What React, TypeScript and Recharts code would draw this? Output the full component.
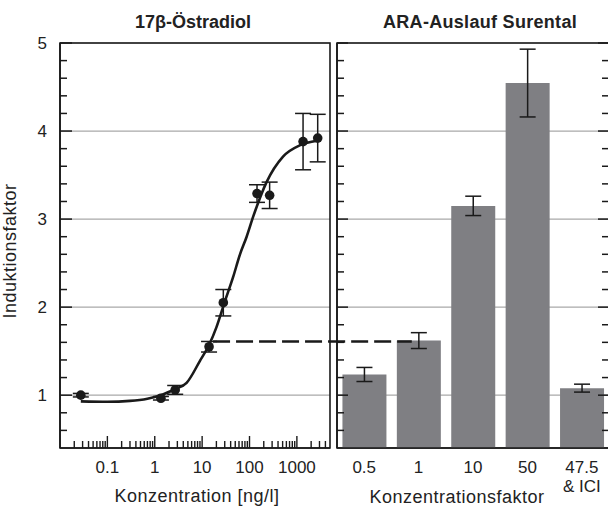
import React from 'react';
import {
  ComposedChart, BarChart, Bar, Scatter, Line, XAxis, YAxis, CartesianGrid,
  ErrorBar, ReferenceLine, ReferenceArea,
} from 'recharts';

const FONT = '"Liberation Sans", Arial, Helvetica, sans-serif';
const INK = '#1a1a1a';
const GRID = '#a9a9a9';

// 17β-Östradiol: measured points (ng/l, induction factor, error)
const e2Conc = [0.0275, 1.35, 2.7, 14, 28, 144, 266, 1350, 2750];
const e2Ind = [1.0, 0.965, 1.06, 1.55, 2.05, 3.29, 3.27, 3.88, 3.92];
const e2Err = [0.02, 0.02, 0.05, 0.06, 0.15, 0.1, 0.15, 0.32, 0.27];

// fitted dose-response curve
const fitConc = [0.0275, 0.1, 0.3, 0.7, 1.35, 2.7, 4.7, 9, 14, 20, 30, 45, 63, 87, 120, 229, 510, 1175, 2650];
const fitInd = [0.93, 0.925, 0.935, 0.96, 1.0, 1.07, 1.14, 1.39, 1.57, 1.77, 2.06, 2.34, 2.6, 2.8, 3.03, 3.42, 3.71, 3.84, 3.89];

// ARA-Auslauf Surental
const factors = ['0.5', '1', '10', '50', '47.5\n& ICI'];
const barInd = [1.235, 1.62, 3.15, 4.545, 1.08];
const barErr = [0.08, 0.09, 0.11, 0.385, 0.045];

// induction at 14 ng/l, carried over to the effluent
const equivLevel = 1.61;

const yMajor = [1, 2, 3, 4, 5];
const yMinor = [0.6, 0.8, 1.2, 1.4, 1.6, 1.8, 2.2, 2.4, 2.6, 2.8, 3.2, 3.4, 3.6, 3.8, 4.2, 4.4, 4.6, 4.8];
const xMajor = [0.1, 1, 10, 100, 1000];
const xMinor = [
  0.02, 0.03, 0.04, 0.05, 0.06, 0.07, 0.08, 0.09,
  0.2, 0.3, 0.4, 0.5, 0.6, 0.7, 0.8, 0.9,
  2, 3, 4, 5, 6, 7, 8, 9,
  20, 30, 40, 50, 60, 70, 80, 90,
  200, 300, 400, 500, 600, 700, 800, 900,
  2000, 3000, 4000,
];

const e2Data = e2Conc.map((x, i) => ({ x, y: e2Ind[i], err: e2Err[i] }));
const fitData = fitConc.map((x, i) => ({ x, y: fitInd[i] }));
const barData = factors.map((cat, i) => ({ cat, v: barInd[i], err: barErr[i] }));

const yTicks = [...yMinor, ...yMajor].sort((a, b) => a - b);
const xTicks = [...xMinor, ...xMajor].sort((a, b) => a - b);

const line = { stroke: INK, strokeWidth: 1.6 };
const textProps = { fill: '#222', fontSize: 17, fontFamily: FONT };

function Dot(p: any) {
  return <circle cx={p.cx} cy={p.cy} r={4.8} fill={INK} />;
}

// inward tick marks, long on whole numbers, label outside (left axis)
function LeftTick({ x, y, payload, showLabel, major = 12 }: any) {
  const isMajor = yMajor.includes(payload.value);
  return (
    <g>
      <line x1={x} y1={y} x2={x + (isMajor ? major : 7)} y2={y} stroke={INK} strokeWidth={1.5} />
      {showLabel && isMajor && (
        <text x={x - 13} y={y} dy="0.36em" textAnchor="end" {...textProps}>{payload.value}</text>
      )}
    </g>
  );
}

function RightTick({ x, y, payload }: any) {
  const isMajor = yMajor.includes(payload.value);
  return <line x1={x} y1={y} x2={x - (isMajor ? 11 : 7)} y2={y} stroke={INK} strokeWidth={1.5} />;
}

function LogTick({ x, y, payload }: any) {
  const isMajor = xMajor.includes(payload.value);
  return (
    <g>
      <line x1={x} y1={y} x2={x} y2={y - (isMajor ? 12 : 7)} stroke={INK} strokeWidth={1.4} />
      {isMajor && (
        <text x={x} y={y + 13} dy="0.71em" textAnchor="middle" {...textProps}>{String(payload.value)}</text>
      )}
    </g>
  );
}

function CatTick({ x, y, payload }: any) {
  const parts = String(payload.value).split('\n');
  return (
    <text x={x} y={y + 13} textAnchor="middle" {...textProps}>
      {parts.map((s, i) => (
        <tspan key={i} x={x} dy={i === 0 ? '0.71em' : '1.1em'}>{s}</tspan>
      ))}
    </text>
  );
}

const title: React.CSSProperties = {
  position: 'absolute', fontFamily: FONT, fontWeight: 'bold', fontSize: 18,
  lineHeight: '20px', textAlign: 'center', color: '#222', whiteSpace: 'nowrap',
};
const axisTitle: React.CSSProperties = {
  position: 'absolute', fontFamily: FONT, fontSize: 18, lineHeight: '16px',
  textAlign: 'center', color: '#222', whiteSpace: 'nowrap', letterSpacing: 0.5,
};

function E2Panel() {
  return (
    <ComposedChart width={340} height={506} margin={{ top: 43, right: 10, bottom: 28, left: 20 }}>
      <CartesianGrid xAxisId="x" yAxisId="y" vertical={false} stroke={GRID} strokeWidth={1.3}
        horizontalValues={yMajor} />
      <XAxis xAxisId="x" dataKey="x" type="number" scale="log" domain={[0.01, 5000]} allowDataOverflow
        ticks={xTicks} interval={0} height={30} tickSize={0} tickMargin={0}
        axisLine={line} tickLine={false} tick={<LogTick />} />
      <YAxis yAxisId="y" type="number" domain={[0.4, 5]} allowDataOverflow ticks={yTicks} interval={0}
        width={40} tickSize={0} tickMargin={0} axisLine={line} tickLine={false}
        tick={<LeftTick showLabel />} />
      <ReferenceArea xAxisId="x" yAxisId="y" x1={0.01} x2={5000} y1={0.4} y2={5}
        fill="none" stroke={INK} strokeWidth={1.6} ifOverflow="visible" />
      <ReferenceLine xAxisId="x" yAxisId="y" ifOverflow="visible"
        segment={[{ x: 17, y: equivLevel }, { x: 5000, y: equivLevel }]}
        stroke={INK} strokeWidth={2.6} strokeDasharray="17 6" />
      <Line xAxisId="x" yAxisId="y" data={fitData} dataKey="y" type="monotone"
        stroke={INK} strokeWidth={2.6} dot={false} activeDot={false} isAnimationActive={false} />
      <Scatter xAxisId="x" yAxisId="y" data={e2Data} dataKey="y" shape={<Dot />} isAnimationActive={false}>
        <ErrorBar dataKey="err" direction="y" width={8} stroke={INK} strokeWidth={1.5} />
      </Scatter>
    </ComposedChart>
  );
}

function EffluentPanel() {
  return (
    <BarChart width={281} height={506} data={barData} barCategoryGap="10%"
      margin={{ top: 43, right: 1, bottom: 28, left: 6 }}>
      <CartesianGrid xAxisId="c" yAxisId="y" vertical={false} stroke={GRID} strokeWidth={1.3}
        horizontalValues={yMajor} />
      <XAxis xAxisId="c" dataKey="cat" type="category" height={30} interval={0}
        tickLine={false} tickSize={0} tickMargin={0} tick={<CatTick />} axisLine={line} />
      <XAxis xAxisId="n" type="number" domain={[0, 5]} allowDataOverflow hide />
      <YAxis yAxisId="y" type="number" domain={[0.4, 5]} allowDataOverflow ticks={yTicks} interval={0}
        width={1} tickSize={0} tickMargin={0} axisLine={line} tickLine={false}
        tick={<LeftTick major={11} />} />
      <YAxis yAxisId="yr" orientation="right" type="number" domain={[0.4, 5]} allowDataOverflow
        ticks={yTicks} interval={0} width={1} tickSize={0} tickMargin={0} axisLine={line}
        tickLine={false} tick={<RightTick />} />
      <ReferenceArea xAxisId="n" yAxisId="y" x1={0} x2={5} y1={0.4} y2={5}
        fill="none" stroke={INK} strokeWidth={1.6} ifOverflow="visible" />
      <ReferenceLine xAxisId="n" yAxisId="y" ifOverflow="visible"
        segment={[{ x: -0.13, y: equivLevel }, { x: 1.1, y: equivLevel }]}
        stroke={INK} strokeWidth={2.6} strokeDasharray="17 6" />
      <Bar xAxisId="c" yAxisId="y" dataKey="v" fill="#7f7f83" isAnimationActive={false}>
        <ErrorBar dataKey="err" direction="y" width={8} stroke={INK} strokeWidth={1.5} />
      </Bar>
    </BarChart>
  );
}

export default function App() {
  return (
    <div style={{ position: 'absolute', left: 0, top: 0, width: 608, height: 506, overflow: 'hidden', background: '#fff' }}>
      <div style={{ position: 'absolute', left: 0, top: 0 }}><E2Panel /></div>
      <div style={{ position: 'absolute', left: 330, top: 0 }}><EffluentPanel /></div>
      <div style={{ ...title, left: 73, top: 12, width: 240 }}>17β-Östradiol</div>
      <div style={{ ...title, left: 360, top: 12, width: 240, letterSpacing: 0.3 }}>ARA-Auslauf Surental</div>
      <div style={{ ...axisTitle, left: 77, top: 488, width: 240 }}>Konzentration [ng/l]</div>
      <div style={{ ...axisTitle, left: 337, top: 489, width: 240 }}>Konzentrationsfaktor</div>
      <div style={{ ...axisTitle, left: -110, top: 243, width: 240, transform: 'rotate(-90deg)' }}>Induktionsfaktor</div>
    </div>
  );
}
